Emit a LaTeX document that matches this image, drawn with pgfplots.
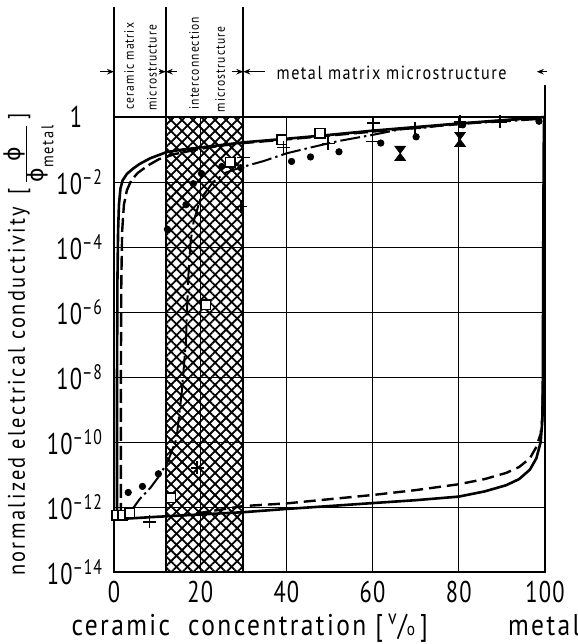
\documentclass[border=0pt]{standalone}
\usepackage{fontspec}
\setmainfont{PT Sans}[FakeStretch=0.85,LetterSpace=8]
\newfontfamily\tickfont{PT Sans}[FakeStretch=0.75,LetterSpace=4]
\newfontfamily\ylabfont{PT Sans}[FakeStretch=0.85,LetterSpace=10]
\newfontfamily\grk{DejaVu Sans}
\usepackage{pgfplots}
\pgfplotsset{compat=1.18}
\usetikzlibrary{patterns.meta,arrows.meta}

\pgfdeclareplotmark{hourglass}{%
  \pgfpathmoveto{\pgfqpoint{-0.75\pgfplotmarksize}{\pgfplotmarksize}}%
  \pgfpathlineto{\pgfqpoint{0.75\pgfplotmarksize}{\pgfplotmarksize}}%
  \pgfpathlineto{\pgfqpoint{-0.75\pgfplotmarksize}{-\pgfplotmarksize}}%
  \pgfpathlineto{\pgfqpoint{0.75\pgfplotmarksize}{-\pgfplotmarksize}}%
  \pgfpathclose
  \pgfusepathqfillstroke}

\begin{document}
\begin{tikzpicture}
\begin{axis}[
  width=215.5pt, height=227.5pt, scale only axis,
  xmin=0, xmax=100, ymode=log, ymin=1e-14, ymax=1,
  xtick={0,20,40,60,80,100},
  xticklabels={0,20,40,60,80,100},
  ytick={1e-14,1e-12,1e-10,1e-8,1e-6,1e-4,1e-2,1},
  yticklabels={10\textsuperscript{–14},10\textsuperscript{–12},10\textsuperscript{–10},10\textsuperscript{–8},10\textsuperscript{–6},10\textsuperscript{–4},10\textsuperscript{–2},1\hphantom{\textsuperscript{–2}}},
  major tick length=0pt,
  grid=major,
  major grid style={black, line width=0.5pt},
  axis line style={black, line width=1pt},
  tick label style={font=\tickfont\fontsize{15}{15}\selectfont},
  xticklabel style={yshift=-1pt},
  yticklabel style={xshift=-2pt},
  clip=false,
]
% hatched interconnection region
\addplot[draw=none, pattern={Lines[angle=45,distance=3.9pt,line width=0.9pt]}]
  coordinates {(12,1e-14) (12,1) (30,1) (30,1e-14) (12,1e-14)};
\addplot[draw=none, pattern={Lines[angle=-45,distance=3.9pt,line width=0.9pt]}]
  coordinates {(12,1e-14) (12,1) (30,1) (30,1e-14) (12,1e-14)};
\draw[line width=1.1pt] (rel axis cs:0.12,0) -- (rel axis cs:0.12,1);
\draw[line width=1.1pt] (rel axis cs:0.30,0) -- (rel axis cs:0.30,1);

% upper bound, solid
\addplot[black, line width=1.3pt] coordinates {
 (0.7,5.0e-13) (0.7,1e-8) (0.8,1e-5) (0.95,3.16e-4) (1.15,2.0e-3) (1.5,6.3e-3)
 (2.0,1.12e-2) (3.0,1.78e-2) (4.5,2.63e-2) (6.0,3.63e-2) (8.4,5.37e-2)
 (12.2,8.32e-2) (16,0.1) (20,0.115) (25,0.138) (30,0.166) (40,0.214)
 (50,0.282) (60,0.380) (70,0.490) (80,0.631) (90,0.794) (100,1)};
% upper bound, dashed
\addplot[black, line width=1.2pt, dash pattern=on 7pt off 2.5pt] coordinates {
 (1.6,5.0e-13) (1.6,1e-8) (1.7,1e-5) (1.9,3.16e-4) (2.3,2.0e-3) (3.0,5.6e-3)
 (4.0,1.12e-2) (5.5,1.9e-2) (8.0,3.3e-2) (10.4,5.0e-2) (14,7.2e-2)
 (20,0.105) (25,0.132) (30,0.158) (40,0.204) (50,0.269) (60,0.355)
 (70,0.468) (80,0.603) (90,0.776) (100,1)};
% lower bound, solid
\addplot[black, line width=1.3pt] coordinates {
 (0,4.17e-13) (10,5.0e-13) (20,5.89e-13) (30,6.92e-13) (40,8.71e-13)
 (50,1.07e-12) (60,1.32e-12) (70,1.62e-12) (80,2.09e-12) (86,3.02e-12)
 (91,4.68e-12) (94,7.24e-12) (96.5,1.41e-11) (98,3.16e-11) (99,1e-10)
 (99.4,5e-10) (99.5,1e-8) (99.6,1e-4) (99.7,0.1) (99.8,1)};
% lower bound, dashed
\addplot[black, line width=1.2pt, dash pattern=on 6pt off 3pt] coordinates {
 (15,5.4e-13) (20,6.6e-13) (30,1.07e-12) (40,1.29e-12) (50,1.74e-12)
 (60,2.34e-12) (70,3.31e-12) (80,5.01e-12) (86,7.24e-12) (91,1.12e-11)
 (94,1.7e-11) (96.5,3.16e-11) (98,7.08e-11) (99,1.78e-10) (99.4,6.3e-10)
 (99.5,5e-9)};
% percolation curve, dash-dot
\addplot[black, line width=1pt, dash pattern=on 10pt off 2pt on 1.2pt off 2pt] coordinates {
 (3.6,6.46e-13) (6,1.78e-12) (8.5,3.98e-12) (10.3,8.32e-12) (12.5,2.51e-11)
 (14.5,1.26e-10) (15.7,3.16e-9) (16.7,1.26e-7) (17.2,1e-5) (17.8,1.58e-4)
 (18.5,6.3e-4) (20,2.88e-3) (23,1e-2) (26,1.95e-2) (29.2,2.75e-2)
 (34.6,4.37e-2) (40,7.59e-2) (45.6,0.115) (51.7,0.178) (60,0.282)
 (66.4,0.417) (72,0.468) (79,0.631) (89,0.708) (100,0.891)};

% measured points
\addplot[only marks, mark=*, mark size=1.6pt, black] coordinates {
 (3.3,2.8e-12) (6.6,4.3e-12) (10.3,1.05e-11) (12.4,3.5e-4) (16.7,2.0e-3)
 (18.4,8.9e-3) (20.3,1.82e-2) (25,3.0e-2) (29.4,2.75e-2) (41.2,4.3e-2)
 (45.6,5.9e-2) (52.2,8.5e-2) (61.9,0.158) (70.1,0.245) (80.9,0.575) (98.6,0.741)};
\addplot[only marks, mark=square*, mark size=2.4pt, black, line width=0.8pt,
  mark options={fill=white}] coordinates {
 (0.6,5.6e-13) (2,5.5e-13) (3.6,6.5e-13) (13.2,1.95e-12) (21.3,1.66e-6)
 (27,4e-2) (38.9,0.2) (47.8,0.316)};
\addplot[only marks, mark=+, mark size=3.2pt, black, line width=0.8pt] coordinates {
 (8.2,3.5e-13) (19.3,1.6e-11) (29.4,1.78e-3) (30,5.6e-2) (39.3,0.115)
 (49.7,0.155) (60,0.178) (60.2,0.646) (69.8,0.447) (80.3,0.708) (89.6,0.708)};
\addplot[only marks, mark=hourglass, mark size=3.5pt, black, fill=black] coordinates {
 (66.4,7.6e-2) (80.3,0.204)};

% region annotations above the axis
\draw[line width=0.8pt] (rel axis cs:0,1) -- (rel axis cs:0,1.242);
\draw[line width=0.8pt] (rel axis cs:0.12,1) -- (rel axis cs:0.12,1.242);
\draw[line width=0.8pt] (rel axis cs:0.30,1) -- (rel axis cs:0.30,1.242);
\draw[line width=0.8pt] (rel axis cs:1,1) -- (rel axis cs:1,1.07);
\begin{scope}[line width=0.6pt, -{Stealth[length=3.5pt,width=2.8pt]}]
\draw (rel axis cs:-0.0325,1.0996) -- (rel axis cs:0,1.0996);
\draw (rel axis cs:0.104,1.0996) -- (rel axis cs:0.12,1.0996);
\draw (rel axis cs:0.146,1.0996) -- (rel axis cs:0.12,1.0996);
\draw (rel axis cs:0.273,1.0996) -- (rel axis cs:0.30,1.0996);
\draw (rel axis cs:0.35,1.0996) -- (rel axis cs:0.30,1.0996);
\draw (rel axis cs:1.005,1.0996) -- (rel axis cs:0.981,1.0996);
\end{scope}
\node[rotate=90, font=\fontsize{6.8}{7}\selectfont, inner sep=0pt] at (rel axis cs:0.035,1.112) {ceramic matrix};
\node[rotate=90, font=\fontsize{6.8}{7}\selectfont, inner sep=0pt] at (rel axis cs:0.088,1.108) {microstructure};
\node[rotate=90, font=\fontsize{6.8}{7}\selectfont, inner sep=0pt] at (rel axis cs:0.186,1.118) {interconnection};
\node[rotate=90, font=\fontsize{6.8}{7}\selectfont, inner sep=0pt] at (rel axis cs:0.246,1.105) {microstructure};
\node[font=\fontsize{9.5}{10}\selectfont, inner sep=0pt] at (rel axis cs:0.644,1.098) {metal matrix microstructure};

% axis labels
\node[anchor=base, font=\fontsize{15}{16}\selectfont, inner sep=0pt] at (rel axis cs:0.016,-0.1385) {ceramic};
\node[anchor=base, font=\fontsize{15}{16}\selectfont, inner sep=0pt] at (rel axis cs:0.45,-0.1385) {concentration [\,\textsuperscript{v}/{\fontsize{9}{9}\selectfont o}\,]};
\node[anchor=base, font=\fontsize{15}{16}\selectfont, inner sep=0pt] at (rel axis cs:0.998,-0.1385) {metal};
\node[rotate=90, anchor=base, font=\ylabfont\fontsize{12}{13}\selectfont, inner sep=0pt] at (rel axis cs:-0.2065,0.5)
  {normalized electrical conductivity\enspace[\,\raisebox{-3.5pt}{$\frac{\mbox{\grk\fontsize{11}{11}\selectfont ϕ}}{\mbox{\grk\fontsize{11}{11}\selectfont ϕ\ylabfont\fontsize{8.5}{8.5}\selectfont\raisebox{-1.1ex}{metal}}}$}\,]};
\end{axis}
\pgfresetboundingbox
\path ([shift={(-57pt,-36pt)}]current axis.south west) rectangle ([shift={(16.5pt,58.5pt)}]current axis.north east);
\end{tikzpicture}
\end{document}
